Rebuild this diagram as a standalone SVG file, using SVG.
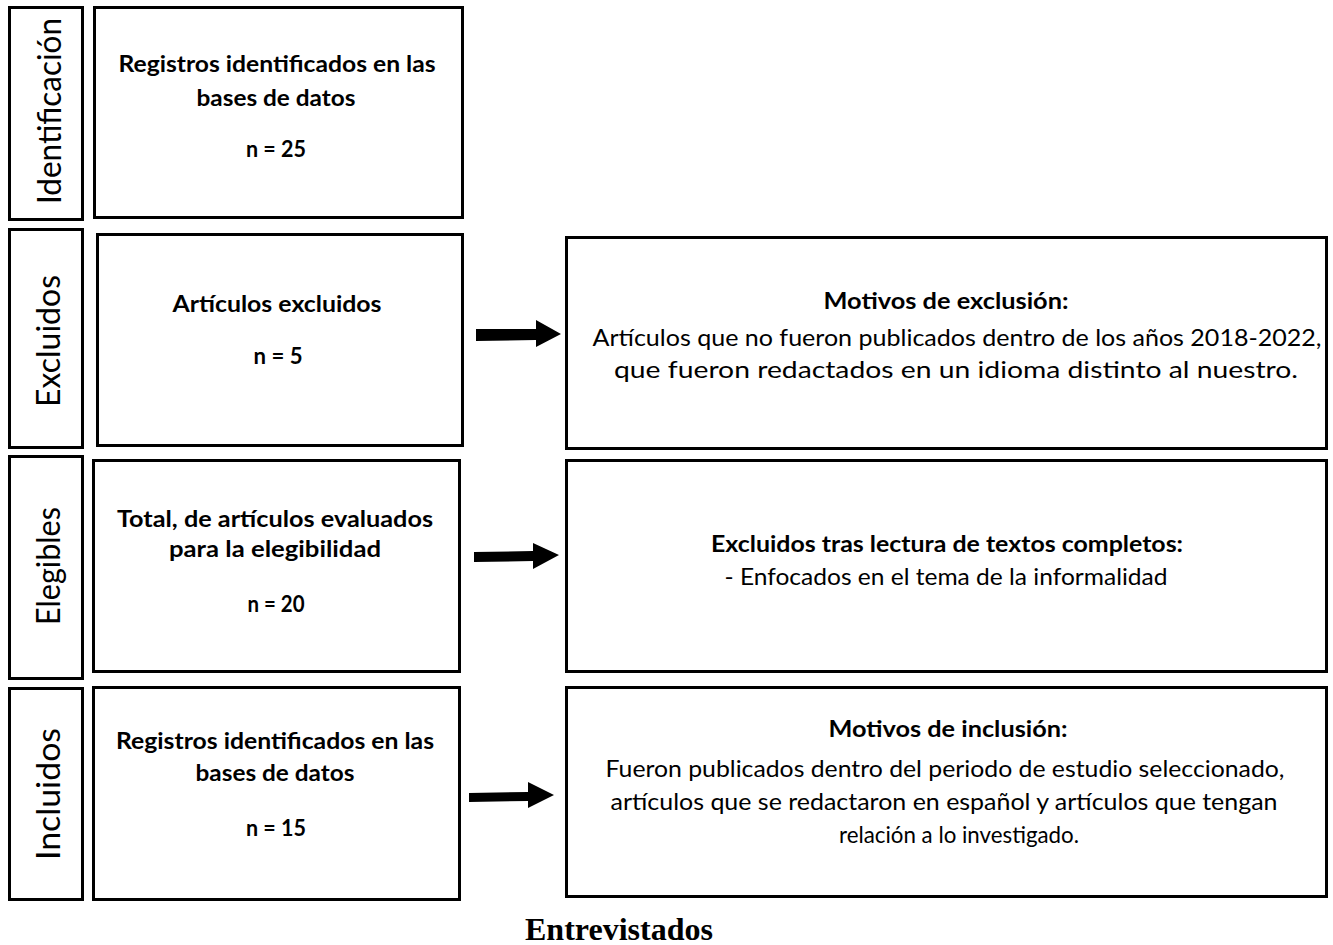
<svg xmlns="http://www.w3.org/2000/svg" width="1333" height="945" viewBox="0 0 1333 945">
<style>
  .box { fill: #ffffff; stroke: #000000; stroke-width: 3; }
  .side { font-family: Lato, "Open Sans", "Liberation Sans", sans-serif; font-size: 32px; fill: #000; text-anchor: middle; }
  .lb { font-family: Lato, "Open Sans", "Liberation Sans", sans-serif; font-size: 23px; font-weight: bold; fill: #000; text-anchor: middle; }
  .rt { font-family: Lato, "Open Sans", "Liberation Sans", sans-serif; font-size: 23px; fill: #000; text-anchor: middle; }
  .cap { font-family: "Liberation Serif", "Times New Roman", serif; font-size: 32px; font-weight: bold; fill: #000; text-anchor: middle; }
  .arrow { fill: #000; }
</style>
<rect width="1333" height="945" fill="#ffffff"/>

<g id="side-identificacion">
  <rect class="box" x="9.5" y="7.5" width="73" height="212"/>
  <text class="side" transform="translate(61,111) rotate(-90)" textLength="186" lengthAdjust="spacingAndGlyphs">Identificación</text>
</g>
<g id="side-excluidos">
  <rect class="box" x="9.5" y="229.5" width="73" height="218"/>
  <text class="side" transform="translate(60,341) rotate(-90)" textLength="132" lengthAdjust="spacingAndGlyphs">Excluidos</text>
</g>
<g id="side-elegibles">
  <rect class="box" x="9.5" y="456.5" width="73" height="222"/>
  <text class="side" transform="translate(60,566) rotate(-90)" textLength="118" lengthAdjust="spacingAndGlyphs">Elegibles</text>
</g>
<g id="side-incluidos">
  <rect class="box" x="9.5" y="688.5" width="73" height="211"/>
  <text class="side" transform="translate(60,794) rotate(-90)" textLength="132" lengthAdjust="spacingAndGlyphs">Incluidos</text>
</g>

<g id="node-identificados">
  <rect class="box" x="94.5" y="7.5" width="368" height="210"/>
  <text class="lb" x="277" y="72" textLength="317" lengthAdjust="spacingAndGlyphs">Registros identificados en las</text>
  <text class="lb" x="276" y="106" textLength="159" lengthAdjust="spacingAndGlyphs">bases de datos</text>
  <text class="lb" x="276" y="157" textLength="60" lengthAdjust="spacingAndGlyphs">n = 25</text>
</g>
<g id="node-excluidos">
  <rect class="box" x="97.5" y="234.5" width="365" height="211"/>
  <text class="lb" x="277" y="312" textLength="209" lengthAdjust="spacingAndGlyphs">Artículos excluidos</text>
  <text class="lb" x="278" y="364" textLength="49" lengthAdjust="spacingAndGlyphs">n = 5</text>
</g>
<g id="node-elegibles">
  <rect class="box" x="93.5" y="460.5" width="366" height="211"/>
  <text class="lb" x="275" y="527" textLength="316" lengthAdjust="spacingAndGlyphs">Total, de artículos evaluados</text>
  <text class="lb" x="275" y="557" textLength="212" lengthAdjust="spacingAndGlyphs">para la elegibilidad</text>
  <text class="lb" x="276" y="612" textLength="57" lengthAdjust="spacingAndGlyphs">n = 20</text>
</g>
<g id="node-incluidos">
  <rect class="box" x="93.5" y="687.5" width="366" height="212"/>
  <text class="lb" x="275" y="749" textLength="318" lengthAdjust="spacingAndGlyphs">Registros identificados en las</text>
  <text class="lb" x="275" y="781" textLength="159" lengthAdjust="spacingAndGlyphs">bases de datos</text>
  <text class="lb" x="276" y="836" textLength="60" lengthAdjust="spacingAndGlyphs">n = 15</text>
</g>

<g id="node-motivos-exclusion">
  <rect class="box" x="566.5" y="237.5" width="760" height="211"/>
  <text class="lb" x="946" y="309" textLength="245" lengthAdjust="spacingAndGlyphs">Motivos de exclusión:</text>
  <text class="rt" x="957" y="346" textLength="729" lengthAdjust="spacingAndGlyphs">Artículos que no fueron publicados dentro de los años 2018-2022,</text>
  <text class="rt" x="956" y="378" textLength="684" lengthAdjust="spacingAndGlyphs">que fueron redactados en un idioma distinto al nuestro.</text>
</g>
<g id="node-excluidos-lectura">
  <rect class="box" x="566.5" y="460.5" width="760" height="211"/>
  <text class="lb" x="947" y="552" textLength="472" lengthAdjust="spacingAndGlyphs">Excluidos tras  lectura de textos completos:</text>
  <text class="rt" x="946" y="585" textLength="443" lengthAdjust="spacingAndGlyphs">- Enfocados en el tema de la informalidad</text>
</g>
<g id="node-motivos-inclusion">
  <rect class="box" x="566.5" y="687.5" width="760" height="209"/>
  <text class="lb" x="948" y="737" textLength="239" lengthAdjust="spacingAndGlyphs">Motivos de inclusión:</text>
  <text class="rt" x="945" y="777" textLength="679" lengthAdjust="spacingAndGlyphs">Fueron publicados dentro del periodo de estudio seleccionado,</text>
  <text class="rt" x="944" y="810" textLength="667" lengthAdjust="spacingAndGlyphs">artículos que se redactaron en español y artículos que tengan</text>
  <text class="rt" x="959" y="843" textLength="240" lengthAdjust="spacingAndGlyphs">relación a lo investigado.</text>
</g>

<g id="connectors">
  <path class="arrow" d="M476,329 L536,329 L536,320 L561,334 L536,347 L536,340 L476,341 Z"/>
  <path class="arrow" d="M474,552 L533,551 L533,543 L559,555 L533,569 L533,561 L474,562 Z"/>
  <path class="arrow" d="M469,793 L528,792 L528,782 L554,795 L528,808 L528,801 L469,802 Z"/>
</g>

<text class="cap" x="619" y="940" textLength="188" lengthAdjust="spacingAndGlyphs">Entrevistados</text>
</svg>
